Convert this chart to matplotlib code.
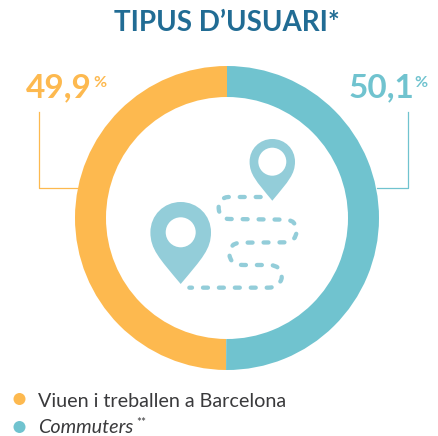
import matplotlib
matplotlib.use("Agg")
import matplotlib.pyplot as plt
from matplotlib.path import Path
from matplotlib.patches import PathPatch, Circle

W, H = 438, 436
categories = ["Viuen i treballen a Barcelona", "Commuters"]
shares = [49.9, 50.1]
share_labels = ["49,9", "50,1"]
title = "TIPUS D\u2019USUARI*"
ORANGE, TEAL, NAVY, ICON, INK = "#FDB94F", "#70C3CF", "#216C94", "#93CDD9", "#3A3A3C"

fig = plt.figure(figsize=(W / 100, H / 100), dpi=100)
ax = fig.add_axes([0, 0, 1, 1])
plt.rcParams["font.family"] = ["Lato", "DejaVu Sans"]
Y = lambda py: H - py

ax.pie(shares, colors=[ORANGE, TEAL], startangle=90, counterclock=True,
       center=(227, Y(218)), radius=152, wedgeprops=dict(width=31, linewidth=0))
ax.set_xlim(0, W)
ax.set_ylim(0, H)
ax.set_aspect("equal")
ax.axis("off")

ax.text(226.5, Y(31), title, ha="center", va="baseline", fontsize=20, color=NAVY, weight="bold")
ax.text(26, Y(97), share_labels[0], ha="left", va="baseline", fontsize=24, color=ORANGE, weight="bold")
ax.text(93, Y(87), "%", ha="left", va="baseline", fontsize=11.5, color=ORANGE, weight="bold")
ax.text(349, Y(97), share_labels[1], ha="left", va="baseline", fontsize=24, color=TEAL, weight="bold")
ax.text(414, Y(87), "%", ha="left", va="baseline", fontsize=11.5, color=TEAL, weight="bold")

ax.plot([39, 39, 78], [Y(112), Y(188), Y(188)], color=ORANGE, lw=0.9)
ax.plot([408, 408, 377], [Y(112), Y(188), Y(188)], color=TEAL, lw=0.9)


def pin(cx, cy, r, hole, tip):
    verts = [(cx, Y(tip)),
             (cx - r * 0.72, Y(cy + r * 0.85)), (cx - r, Y(cy + r * 0.55)), (cx - r, Y(cy)),
             (cx - r, Y(cy - r * 0.56)), (cx - r * 0.56, Y(cy - r)), (cx, Y(cy - r)),
             (cx + r * 0.56, Y(cy - r)), (cx + r, Y(cy - r * 0.56)), (cx + r, Y(cy)),
             (cx + r, Y(cy + r * 0.55)), (cx + r * 0.72, Y(cy + r * 0.85)), (cx, Y(tip))]
    codes = [Path.MOVETO] + [Path.CURVE4] * 12
    ax.add_patch(PathPatch(Path(verts, codes), fc=ICON, lw=0))
    ax.add_patch(Circle((cx, Y(cy)), hole, fc="white", lw=0))


pin(180.7, 232.3, 30.3, 15, 284)
pin(272.3, 161.7, 22.7, 14, 200.7)

Z = lambda zx, zy: (140 + zx / 3, Y(130 + zy / 3))
route = [
    (Path.MOVETO, (362, 201)), (Path.LINETO, (265, 201)),
    (Path.CURVE3, (234, 203)), (Path.CURVE3, (236, 235)),
    (Path.CURVE3, (238, 267)), (Path.CURVE3, (268, 267)),
    (Path.LINETO, (440, 269)),
    (Path.CURVE3, (470, 272)), (Path.CURVE3, (470, 303)),
    (Path.CURVE3, (468, 336)), (Path.CURVE3, (435, 337)),
    (Path.LINETO, (300, 338)),
    (Path.CURVE3, (268, 340)), (Path.CURVE3, (268, 372)),
    (Path.CURVE3, (270, 405)), (Path.CURVE3, (310, 405)),
    (Path.LINETO, (390, 405)),
    (Path.CURVE3, (428, 408)), (Path.CURVE3, (425, 445)),
    (Path.CURVE3, (418, 473)), (Path.CURVE3, (385, 473)),
    (Path.LINETO, (148, 473)),
]
rp = Path([Z(*p) for _, p in route], [c for c, _ in route])
poly = rp.to_polygons(closed_only=False)[0]
ax.plot(poly[:, 0], poly[:, 1], color=ICON, lw=3.1, dash_capstyle="round",
        dash_joinstyle="round", linestyle=(0, (1.15, 2.55)))

for py, color in zip([399, 427], [ORANGE, TEAL]):
    ax.add_patch(Circle((19.5, Y(py)), 6, fc=color, lw=0))
ax.text(38, Y(407), categories[0], ha="left", va="baseline", fontsize=14.2, color=INK, weight="normal")
ax.text(38, Y(433), categories[1], ha="left", va="baseline", fontsize=14.2, color=INK, weight="normal", style="italic")
ax.text(136, Y(426), "**", ha="left", va="baseline", fontsize=8.5, color=INK)

fig.savefig("out.png", dpi=100)
